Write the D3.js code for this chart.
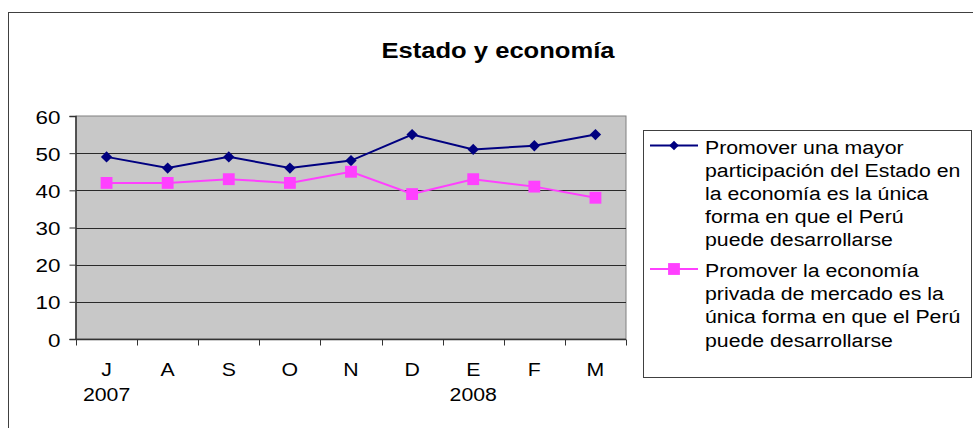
<!DOCTYPE html>
<html lang="es">
  <head>
    <meta charset="UTF-8" />
    <title>Estado y economía</title>
    <script src="https://d3js.org/d3.v7.min.js"></script>
    <style>
      body {
        margin: 0;
        padding: 0;
        background: #fff;
      }
      svg {
        display: block;
        font-family: "Liberation Sans", Arial, sans-serif;
      }
    </style>
  </head>
  <body>
    <svg width="973" height="428"></svg>
    <script>
      const months = ["J", "A", "S", "O", "N", "D", "E", "F", "M"];
      const yearLabels = [
        { month: "J", text: "2007" },
        { month: "E", text: "2008" },
      ];
      const estado = [49, 46, 49, 46, 48, 55, 51, 52, 55];
      const mercado = [42, 42, 43, 42, 45, 39, 43, 41, 38];
      const yTicks = [0, 10, 20, 30, 40, 50, 60];

      const seriesList = [
        {
          values: estado,
          color: "#000080",
          marker: "diamond",
          lines: [
            "Promover una mayor",
            "participación del Estado en",
            "la economía es la única",
            "forma en que el Perú",
            "puede desarrollarse",
          ],
        },
        {
          values: mercado,
          color: "#ff40ff",
          marker: "square",
          lines: [
            "Promover la economía",
            "privada de mercado es la",
            "única forma en que el Perú",
            "puede desarrollarse",
          ],
        },
      ];

      const svg = d3.select("svg");
      const plot = { left: 76, right: 626, top: 116, bottom: 339 };
      const stretch = 1.12;
      const fontSize = 19;

      // outer frame of the chart
      svg
        .append("rect")
        .attr("x", 8.5)
        .attr("y", 12.5)
        .attr("width", 1000)
        .attr("height", 500)
        .attr("fill", "#fff")
        .attr("stroke", "#404040");

      svg
        .append("text")
        .attr("x", 498)
        .attr("y", 58)
        .attr("text-anchor", "middle")
        .attr("font-size", 22.5)
        .attr("font-weight", "bold")
        .attr("textLength", 233)
        .attr("lengthAdjust", "spacingAndGlyphs")
        .text("Estado y economía");

      const x = d3
        .scaleBand()
        .domain(months)
        .range([plot.left, plot.right]);
      const y = d3
        .scaleLinear()
        .domain([0, 60])
        .range([plot.bottom, plot.top]);

      svg
        .append("rect")
        .attr("x", plot.left)
        .attr("y", plot.top)
        .attr("width", plot.right - plot.left)
        .attr("height", plot.bottom - plot.top)
        .attr("fill", "#c8c8c8")
        .attr("stroke", "#808080");

      svg
        .append("g")
        .selectAll("line")
        .data(yTicks.filter((t) => t > 0 && t < 60))
        .join("line")
        .attr("x1", plot.left)
        .attr("x2", plot.right)
        .attr("y1", (d) => Math.round(y(d)) + 0.5)
        .attr("y2", (d) => Math.round(y(d)) + 0.5)
        .attr("stroke", "#2a2a2a");

      // y axis
      const yAxis = svg
        .append("g")
        .attr("transform", `translate(${plot.left - 0.5},0)`)
        .call(d3.axisLeft(y).tickValues(yTicks).tickSize(6).tickPadding(0));
      yAxis.select(".domain").attr("stroke", "#333").attr("stroke-width", 1.5);
      yAxis.selectAll(".tick line").attr("stroke", "#333");
      yAxis
        .selectAll(".tick text")
        .attr("font-size", fontSize)
        .attr("font-family", "Liberation Sans, Arial, sans-serif")
        .attr("fill", "#000")
        .attr("x", null)
        .attr("dy", null)
        .attr("text-anchor", "end")
        .attr("transform", "translate(-15,7) scale(1.18,1)");

      // x axis with ticks at the category boundaries
      const xAxis = svg
        .append("g")
        .attr("transform", `translate(0,${plot.bottom + 0.5})`);
      xAxis
        .append("line")
        .attr("x1", plot.left)
        .attr("x2", plot.right)
        .attr("stroke", "#333")
        .attr("stroke-width", 1.5);
      xAxis
        .selectAll("line.tick")
        .data(months.concat(["end"]))
        .join("line")
        .attr("class", "tick")
        .attr("x1", (d, i) => Math.round(plot.left + i * x.step()) + 0.5)
        .attr("x2", (d, i) => Math.round(plot.left + i * x.step()) + 0.5)
        .attr("y1", 0)
        .attr("y2", 6)
        .attr("stroke", "#333");
      xAxis
        .selectAll("text.month")
        .data(months)
        .join("text")
        .attr("class", "month")
        .attr("text-anchor", "middle")
        .attr("font-size", fontSize)
        .attr(
          "transform",
          (d) =>
            `translate(${x(d) + x.bandwidth() / 2},${375.5 - plot.bottom}) scale(${stretch},1)`
        )
        .text((d) => d);
      xAxis
        .selectAll("text.year")
        .data(yearLabels)
        .join("text")
        .attr("class", "year")
        .attr("text-anchor", "middle")
        .attr("font-size", fontSize)
        .attr(
          "transform",
          (d) =>
            `translate(${x(d.month) + x.bandwidth() / 2},${400.5 - plot.bottom}) scale(${stretch},1)`
        )
        .text((d) => d.text);

      function drawMarker(sel, s) {
        if (s.marker === "diamond") {
          // square rotated by 45deg
          sel.attr("d", d3.symbol().type(d3.symbolSquare).size(64)());
        } else {
          sel.attr("d", d3.symbol().type(d3.symbolSquare).size(140)());
        }
      }

      seriesList.forEach((s) => {
        const line = d3
          .line()
          .x((d, i) => x(months[i]) + x.bandwidth() / 2)
          .y((d) => y(d));
        svg
          .append("path")
          .datum(s.values)
          .attr("d", line)
          .attr("fill", "none")
          .attr("stroke", s.color)
          .attr("stroke-width", 2);
        svg
          .append("g")
          .selectAll("path")
          .data(s.values)
          .join("path")
          .call(drawMarker, s)
          .attr("fill", s.color)
          .attr(
            "transform",
            (d, i) =>
              `translate(${x(months[i]) + x.bandwidth() / 2},${y(d)})` +
              (s.marker === "diamond" ? " rotate(45)" : "")
          );
      });

      // legend
      const legend = svg.append("g");
      legend
        .append("rect")
        .attr("x", 643.5)
        .attr("y", 130.5)
        .attr("width", 328)
        .attr("height", 247)
        .attr("fill", "#fff")
        .attr("stroke", "#404040");

      const firstBaselines = [153.5, 277];
      const lineGap = 23.2;
      seriesList.forEach((s, k) => {
        const base = firstBaselines[k];
        const ly = base - 8;
        const g = legend.append("g");
        g.append("line")
          .attr("x1", 650)
          .attr("x2", 698)
          .attr("y1", ly)
          .attr("y2", ly)
          .attr("stroke", s.color)
          .attr("stroke-width", 2);
        g.append("path")
          .call(drawMarker, s)
          .attr("fill", s.color)
          .attr(
            "transform",
            `translate(674,${ly})` + (s.marker === "diamond" ? " rotate(45) scale(0.85)" : "")
          );
        g.selectAll("text")
          .data(s.lines)
          .join("text")
          .attr("font-size", fontSize)
          .attr(
            "transform",
            (d, i) => `translate(705,${base + i * lineGap}) scale(${stretch},1)`
          )
          .text((d) => d);
      });
    </script>
  </body>
</html>
